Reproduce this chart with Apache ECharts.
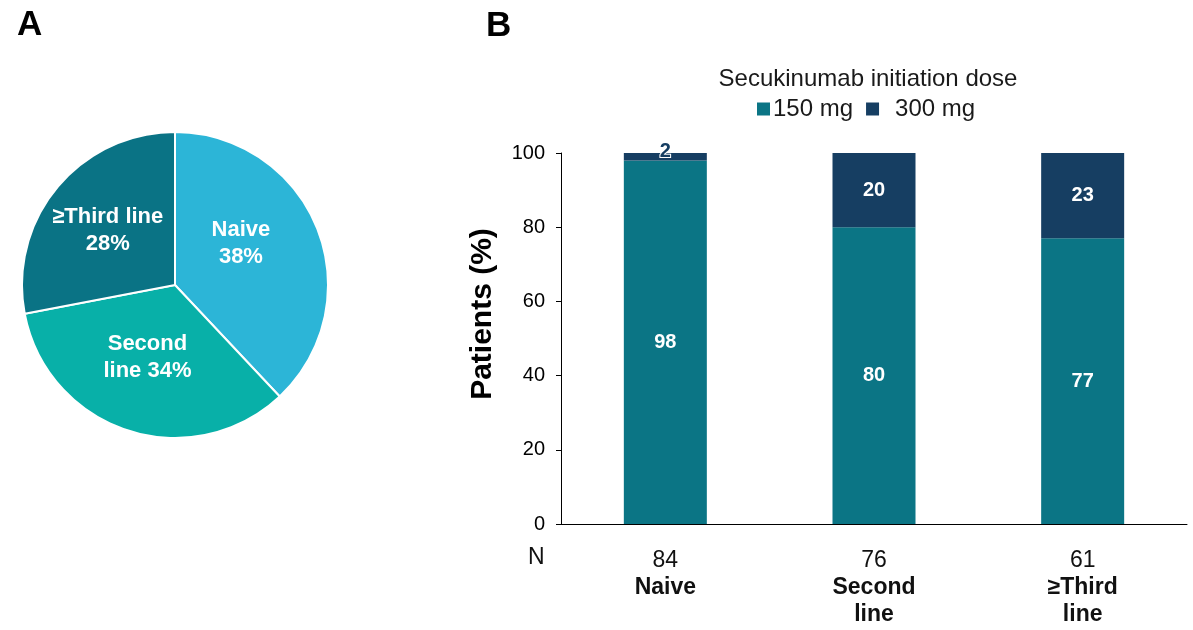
<!DOCTYPE html>
<html>
<head>
<meta charset="utf-8">
<script src="https://cdn.jsdelivr.net/npm/echarts@6/dist/echarts.min.js"></script>
<style>
  html, body { margin: 0; padding: 0; background: #ffffff; }
  #chart { width: 1193px; height: 630px; }
</style>
</head>
<body>
<div id="chart"></div>
<script>
// panel A - treatment line share (%)
var pieNames = ['Naive', 'Second line', '≥Third line'];
var pieValues = [38, 34, 28];
var pieLabelText = ['Naive\n38%', 'Second\nline 34%', '≥Third line\n28%'];

// panel B - initiation dose by line (%)
var barCats = ['Naive', 'Second\nline', '≥Third\nline'];
var barN = [84, 76, 61];
var dose150 = [98, 80, 77];
var dose300 = [2, 20, 23];
var yTicks = [0, 20, 40, 60, 80, 100];

var FONT = '"Liberation Sans", Arial, sans-serif';
var pieColors = ['#2cb5d7', '#08b0a8', '#0a7385'];
// small nudges so the pie labels sit where the original has them
var pieLabelNudge = [[-8, -12], [-3, -3], [-6, -4]];

var chart = echarts.init(document.getElementById('chart'));

var option = {
    backgroundColor: '#ffffff',
    animation: false,
    textStyle: { fontFamily: FONT },
    title: {
        text: 'Secukinumab initiation dose',
        left: 863,
        textAlign: 'center',
        top: 62,
        textStyle: { fontFamily: FONT, fontSize: 24, fontWeight: 'normal', color: '#1a1a1a' }
    },
    legend: {
        data: [
            { name: '150 mg' },
            { name: '300 mg', textStyle: { padding: [0, 0, 5, 11] } }
        ],
        left: 752,
        top: 92,
        icon: 'rect',
        itemWidth: 13,
        itemHeight: 13,
        itemGap: 13,
        textStyle: { fontFamily: FONT, fontSize: 24, color: '#1a1a1a', padding: [0, 0, 5, -2] }
    },
    grid: {
        left: 561,
        right: 6,
        top: 153,
        bottom: 106
    },
    xAxis: {
        type: 'category',
        data: barCats,
        axisLine: { lineStyle: { color: '#000', width: 1 } },
        axisTick: { show: false },
        axisLabel: {
            margin: 23,
            interval: 0,
            formatter: function (val, i) {
                var lines = val.split('\n').map(function (s) { return '{b|' + s + '}'; });
                return '{n|' + barN[i] + '}\n' + lines.join('\n');
            },
            rich: {
                n: { fontFamily: FONT, fontSize: 23, color: '#111', lineHeight: 27 },
                b: { fontFamily: FONT, fontSize: 23, fontWeight: 'bold', color: '#111', lineHeight: 27 }
            }
        }
    },
    yAxis: {
        type: 'value',
        min: yTicks[0],
        max: yTicks[yTicks.length - 1],
        interval: 20,
        splitLine: { show: false },
        axisLine: { show: true, lineStyle: { color: '#000', width: 1 } },
        axisTick: { show: true, length: 5, lineStyle: { color: '#000' } },
        axisLabel: { fontFamily: FONT, fontSize: 20, color: '#000', margin: 16 }
    },
    graphic: [
        { type: 'text', left: 17, top: 8, style: { text: 'A', fontFamily: FONT, fontSize: 35, fontWeight: 'bold', fill: '#000' } },
        { type: 'text', left: 486, top: 9, style: { text: 'B', fontFamily: FONT, fontSize: 35, fontWeight: 'bold', fill: '#000' } },
        {
            type: 'text', x: 483, y: 314, rotation: Math.PI / 2,
            style: { text: 'Patients (%)', fontFamily: FONT, fontSize: 30, fontWeight: 'bold', fill: '#000', align: 'center', verticalAlign: 'middle' }
        },
        { type: 'text', left: 528, top: 546, style: { text: 'N', fontFamily: FONT, fontSize: 23, fill: '#111' } }
    ],
    series: [
        {
            type: 'pie',
            center: [175, 285],
            radius: [0, 153],
            startAngle: 90,
            clockwise: true,
            itemStyle: { borderColor: '#fff', borderWidth: 2 },
            label: {
                show: true,
                position: 'inside',
                fontFamily: FONT,
                fontSize: 22,
                fontWeight: 'bold',
                color: '#fff',
                lineHeight: 27,
                formatter: function (p) { return pieLabelText[p.dataIndex]; }
            },
            labelLine: { show: false },
            data: pieNames.map(function (n, i) {
                return {
                    name: n,
                    value: pieValues[i],
                    itemStyle: { color: pieColors[i] },
                    label: { offset: pieLabelNudge[i] }
                };
            })
        },
        {
            name: '150 mg',
            type: 'bar',
            stack: 'dose',
            barWidth: 83,
            itemStyle: { color: '#0b7585' },
            label: { show: true, position: 'inside', fontFamily: FONT, fontSize: 20, fontWeight: 'bold', color: '#fff' },
            data: dose150
        },
        {
            name: '300 mg',
            type: 'bar',
            stack: 'dose',
            barWidth: 83,
            itemStyle: { color: '#163e62' },
            label: { show: true, position: 'inside', fontFamily: FONT, fontSize: 20, fontWeight: 'bold', color: '#fff' },
            data: dose300.map(function (v) {
                if (v < 5) {
                    return {
                        value: v,
                        label: { position: 'top', distance: -8, color: '#163e62', textBorderColor: '#fff', textBorderWidth: 2 }
                    };
                }
                return v;
            })
        }
    ]
};

chart.setOption(option);
</script>
</body>
</html>
